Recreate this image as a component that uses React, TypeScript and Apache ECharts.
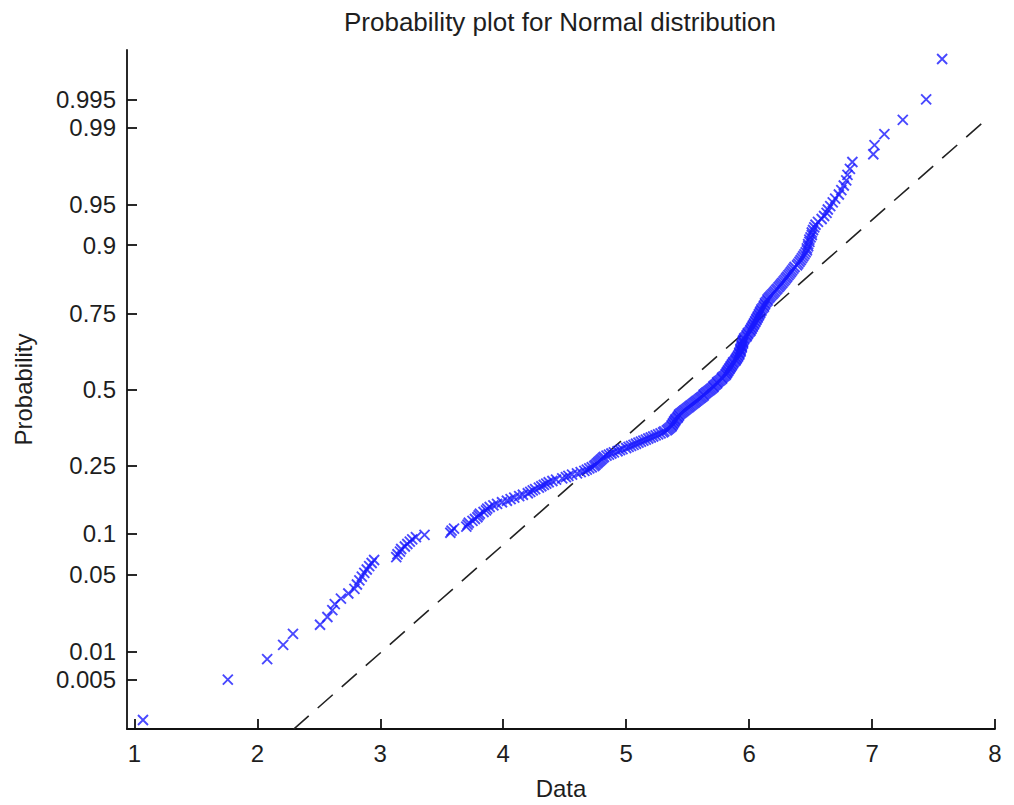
import React, { useEffect, useRef } from "react";
import * as echarts from "echarts";

// Sorted sample values (x positions of the plotted points)
const sampleData: number[] = [
  1.07, 1.76, 2.08, 2.21, 2.29, 2.51, 2.57, 2.61, 2.63, 2.68,
  2.74, 2.79, 2.81, 2.83, 2.85, 2.87, 2.89, 2.91, 2.93, 2.95,
  3.13, 3.14, 3.16, 3.17, 3.20, 3.22, 3.24, 3.26, 3.29, 3.36,
  3.57, 3.58, 3.60, 3.70, 3.71, 3.72, 3.75, 3.77, 3.79, 3.80,
  3.81, 3.84, 3.86, 3.87, 3.89, 3.92, 3.95, 3.99, 4.03, 4.06,
  4.09, 4.13, 4.16, 4.20, 4.22, 4.24, 4.26, 4.29, 4.31, 4.33,
  4.35, 4.37, 4.40, 4.43, 4.48, 4.51, 4.53, 4.56, 4.60, 4.63,
  4.66, 4.68, 4.70, 4.72, 4.74, 4.75, 4.76, 4.77, 4.78, 4.79,
  4.80, 4.81, 4.82, 4.84, 4.86, 4.88, 4.90, 4.93, 4.95, 4.97,
  5.00, 5.02, 5.04, 5.06, 5.08, 5.10, 5.12, 5.14, 5.16, 5.18,
  5.20, 5.22, 5.24, 5.26, 5.28, 5.30, 5.31, 5.33, 5.34, 5.35,
  5.36, 5.37, 5.37, 5.38, 5.38, 5.39, 5.39, 5.40, 5.40, 5.41,
  5.42, 5.42, 5.43, 5.43, 5.44, 5.45, 5.46, 5.47, 5.48, 5.49,
  5.50, 5.51, 5.52, 5.53, 5.54, 5.55, 5.56, 5.57, 5.58, 5.59,
  5.60, 5.61, 5.62, 5.63, 5.63, 5.64, 5.65, 5.66, 5.67, 5.68,
  5.69, 5.70, 5.71, 5.71, 5.72, 5.73, 5.74, 5.74, 5.75, 5.76,
  5.77, 5.78, 5.78, 5.79, 5.80, 5.81, 5.81, 5.82, 5.82, 5.83,
  5.83, 5.84, 5.84, 5.85, 5.85, 5.86, 5.86, 5.87, 5.87, 5.88,
  5.89, 5.89, 5.90, 5.90, 5.91, 5.91, 5.92, 5.92, 5.92, 5.93,
  5.93, 5.93, 5.93, 5.94, 5.94, 5.94, 5.94, 5.95, 5.95, 5.95,
  5.95, 5.96, 5.96, 5.97, 5.98, 5.98, 5.99, 5.99, 6.00, 6.01,
  6.01, 6.02, 6.02, 6.03, 6.03, 6.04, 6.04, 6.05, 6.05, 6.06,
  6.06, 6.07, 6.07, 6.08, 6.08, 6.09, 6.09, 6.10, 6.10, 6.11,
  6.12, 6.12, 6.13, 6.13, 6.14, 6.15, 6.15, 6.16, 6.17, 6.18,
  6.19, 6.20, 6.21, 6.22, 6.23, 6.24, 6.25, 6.26, 6.27, 6.28,
  6.29, 6.30, 6.31, 6.32, 6.33, 6.34, 6.35, 6.36, 6.37, 6.39,
  6.40, 6.41, 6.42, 6.43, 6.44, 6.45, 6.46, 6.47, 6.47, 6.48,
  6.48, 6.49, 6.49, 6.50, 6.51, 6.51, 6.52, 6.53, 6.54, 6.56,
  6.59, 6.61, 6.63, 6.64, 6.66, 6.68, 6.70, 6.73, 6.75, 6.77,
  6.79, 6.80, 6.82, 6.84, 7.01, 7.02, 7.10, 7.25, 7.44, 7.57,
];

// Probability tick labels on the y axis
const yTickProbs: number[] = [0.005, 0.01, 0.05, 0.1, 0.25, 0.5, 0.75, 0.9, 0.95, 0.99, 0.995];
const yTickLabels: string[] = ["0.005", "0.01", "0.05", "0.1", "0.25", "0.5", "0.75", "0.9", "0.95", "0.99", "0.995"];
// X tick values
const xTicks: number[] = [1, 2, 3, 4, 5, 6, 7, 8];
// Reference (dashed) line endpoints: data value and probability
const refLineX: number[] = [2.296, 7.94];
const refLineP: number[] = [0.00128, 0.9920];

// Inverse standard normal CDF (Acklam)
function normInv(p: number): number {
  const a = [-3.969683028665376e1, 2.209460984245205e2, -2.759285104469687e2, 1.38357751867269e2, -3.066479806614716e1, 2.506628277459239];
  const b = [-5.447609879822406e1, 1.615858368580409e2, -1.556989798598866e2, 6.680131188771972e1, -1.328068155288572e1];
  const c = [-7.784894002430293e-3, -3.223964580411365e-1, -2.400758277161838, -2.549732539343734, 4.374664141464968, 2.938163982698783];
  const d = [7.784695709041462e-3, 3.224671290700398e-1, 2.445134137142996, 3.754408661907416];
  const plow = 0.02425;
  const phigh = 1 - plow;
  if (p < plow) {
    const q = Math.sqrt(-2 * Math.log(p));
    return (((((c[0] * q + c[1]) * q + c[2]) * q + c[3]) * q + c[4]) * q + c[5]) / ((((d[0] * q + d[1]) * q + d[2]) * q + d[3]) * q + 1);
  }
  if (p > phigh) {
    const q = Math.sqrt(-2 * Math.log(1 - p));
    return -(((((c[0] * q + c[1]) * q + c[2]) * q + c[3]) * q + c[4]) * q + c[5]) / ((((d[0] * q + d[1]) * q + d[2]) * q + d[3]) * q + 1);
  }
  const q = p - 0.5;
  const r = q * q;
  return ((((((a[0] * r + a[1]) * r + a[2]) * r + a[3]) * r + a[4]) * r + a[5]) * q) / (((((b[0] * r + b[1]) * r + b[2]) * r + b[3]) * r + b[4]) * r + 1);
}

const FONT = "'Liberation Sans', Arial, Helvetica, sans-serif";
const TEXT = "#1e1e1e";

export default function App() {
  const ref = useRef<HTMLDivElement>(null);

  useEffect(() => {
    if (!ref.current) return;
    const chart = echarts.init(ref.current, undefined, { renderer: "svg" });
    const n = sampleData.length;
    const points = sampleData.map((v, i) => [v, normInv((i + 1 - 0.5) / n)]);
    const tickZ = yTickProbs.map((p) => normInv(p));
    const linePts = refLineX.map((x, i) => [x, normInv(refLineP[i])]);

    const labelFor = (val: number) => {
      for (let i = 0; i < tickZ.length; i++) {
        if (Math.abs(tickZ[i] - val) < 1e-6) return yTickLabels[i];
      }
      return "";
    };

    chart.setOption({
      animation: false,
      backgroundColor: "#ffffff",
      title: {
        text: "Probability plot for Normal distribution",
        left: 555,
        top: 4,
        textAlign: "center",
        textStyle: { fontFamily: FONT, fontSize: 26, fontWeight: "normal", color: TEXT },
      },
      grid: { left: 127, top: 50, width: 868, height: 686, containLabel: false },
      xAxis: {
        type: "value",
        min: 0.94,
        max: 8,
        name: "Data",
        nameLocation: "middle",
        nameGap: 47,
        nameTextStyle: { fontFamily: FONT, fontSize: 24, color: TEXT },
        axisLine: { show: true, onZero: false, lineStyle: { color: "#111", width: 1.8 } },
        axisTick: { show: true, inside: true, length: 10, lineStyle: { color: "#111", width: 1.8 }, customValues: xTicks },
        axisLabel: {
          fontFamily: FONT,
          fontSize: 24,
          color: TEXT,
          margin: 12,
          customValues: xTicks,
          formatter: (v: number) => String(Math.round(v)),
        },
        splitLine: { show: false },
      },
      yAxis: {
        type: "value",
        min: -3.015,
        max: 3.015,
        name: "Probability",
        nameLocation: "middle",
        nameGap: 92,
        nameRotate: 90,
        nameTextStyle: { fontFamily: FONT, fontSize: 24, color: TEXT },
        axisLine: { show: true, onZero: false, lineStyle: { color: "#111", width: 1.8 } },
        axisTick: { show: true, inside: true, length: 10, lineStyle: { color: "#111", width: 1.8 }, customValues: tickZ },
        axisLabel: {
          fontFamily: FONT,
          fontSize: 24,
          color: TEXT,
          margin: 11,
          customValues: tickZ,
          formatter: (v: number) => labelFor(v),
        },
        splitLine: { show: false },
      },
      series: [
        {
          type: "line",
          data: linePts,
          symbol: "none",
          clip: true,
          lineStyle: { color: "#222", width: 1.6, type: [20, 12] },
          z: 1,
        },
        {
          type: "scatter",
          data: points,
          symbol: "path://M0,0L10,10M10,0L0,10",
          symbolSize: 10,
          clip: false,
          itemStyle: { color: "none", borderColor: "#1a1aff", borderWidth: 1.9 },
          z: 2,
        },
      ],
    });

    return () => chart.dispose();
  }, []);

  return <div ref={ref} style={{ position: "fixed", left: 0, top: 0, width: 1014, height: 805 }} />;
}
